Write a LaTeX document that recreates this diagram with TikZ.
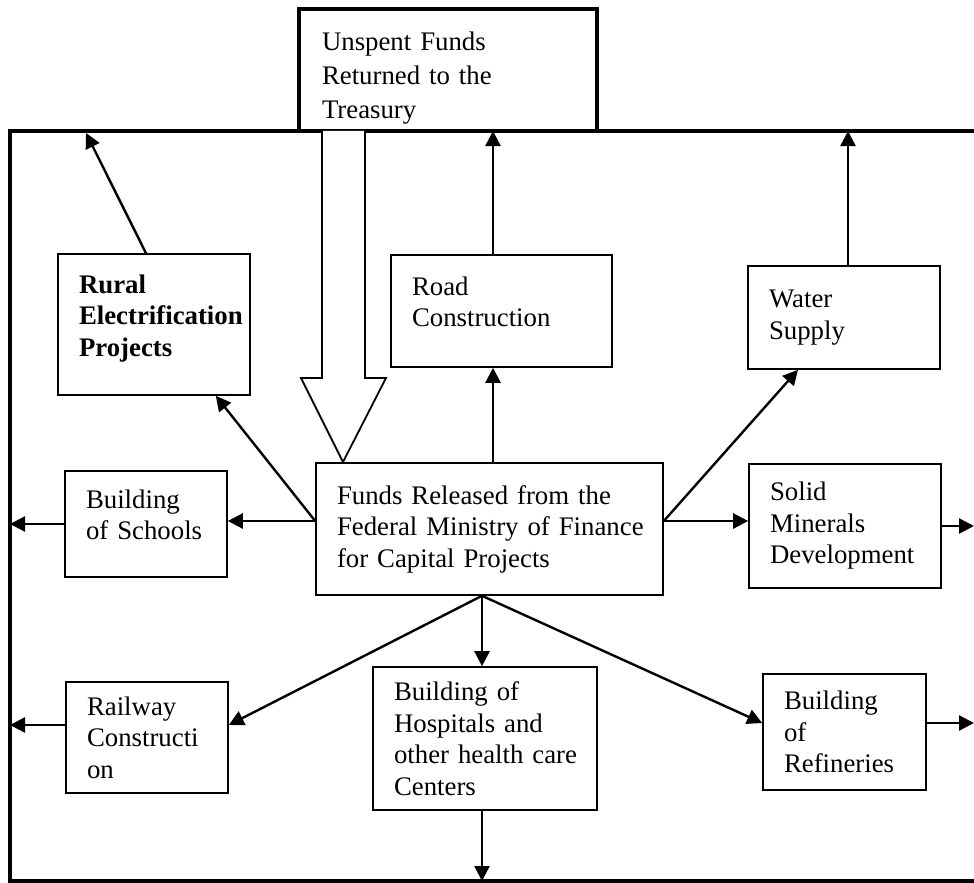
\documentclass[tikz,border=0pt]{standalone}
\usepackage{fontspec}
\setmainfont{Liberation Serif}
\usetikzlibrary{arrows.meta}

\tikzset{
  projbox/.style={draw, line width=0.8pt, align=left, inner xsep=3.5pt, inner ysep=0pt,
    font=\fontsize{13.4}{15.75}\selectfont, execute at begin node={\leftskip=7pt}},
  flow/.style={-{Triangle[length=7.5pt,width=7.5pt]}, line width=1.2pt},
}
% extra room under the text of a box
\newcommand{\padbelow}[1]{\par\vspace*{#1}\hrule height 0pt}

\begin{document}
\begin{tikzpicture}[x=0.5pt,y=-0.5pt]
		\useasboundingbox (0,0) rectangle (974,883);
		
		% Outer frame
		\draw[line width=2pt] (974,131) -- (10,131) -- (10,881) -- (974,881);
		\coordinate (ftop) at (0,131);
		\coordinate (fbot) at (0,881);
		\coordinate (fleft) at (10,0);
		\coordinate (fright) at (974,0);
		
		% Treasury box
		\node[projbox, line width=2pt, text width=142pt, minimum height=61pt, text height=17pt,
		  font=\fontsize{13.4}{17}\selectfont, execute at begin node={\leftskip=8pt}] (treasury) at (448,70) {Unspent Funds\\Returned to the\\Treasury};
		
		% Hollow arrow
		\draw[line width=0.9pt, fill=white] (322,131) -- (322,378) -- (301,378) -- (343,462) -- (386,378) -- (365,378) -- (365,131);
		
		% Upper row
		\node[projbox, text width=89pt, minimum height=70.5pt, font=\fontsize{13.4}{15.75}\selectfont\bfseries] (rural) at (154,324.5) {Rural\\Electrification\\Projects\padbelow{6pt}};
		\node[projbox, text width=103.5pt, minimum height=56pt] (road) at (501.5,311) {Road\\Construction\padbelow{9pt}};
		\node[projbox, text width=89pt, minimum height=51.5pt] (water) at (844,317.5) {Water\\Supply};
		
		% Middle row
		\node[projbox, text width=74pt, minimum height=53pt] (schools) at (146,524) {Building\\of Schools\padbelow{9pt}};
		\node[projbox, text width=166.5pt, minimum height=66pt] (central) at (489.5,529) {Funds Released from the\\Federal Ministry of Finance\\for Capital Projects};
		\node[projbox, text width=89pt, minimum height=62pt] (solid) at (845,526) {Solid\\Minerals\\Development};
		
		% Lower row
		\node[projbox, text width=74pt, minimum height=55.5pt] (railway) at (147,737.5) {Railway\\Constructi\\on};
		\node[projbox, text width=105pt, minimum height=71.5pt] (hospital) at (485,738.5) {Building of\\Hospitals and\\other health care\\Centers};
		\node[projbox, text width=74.5pt, minimum height=58pt] (refineries) at (844.5,732) {Building\\of\\Refineries};
		
		% Arrows out of the central box
		\coordinate (cL) at ([yshift=4pt]central.west);
		\coordinate (cR) at ([yshift=4pt]central.east);
		\coordinate (cT) at ([xshift=1.75pt]central.north);
		\coordinate (cB) at ([xshift=-3.75pt]central.south);
		\draw[flow] (cL) -- ([xshift=-17.5pt]rural.south east);
		\draw[flow] (cL) -- (cL -| schools.east);
		\draw[flow] (cT) -- (cT |- road.south);
		\draw[flow] (cR) -- ([xshift=-23pt]water.south);
		\draw[flow] (cR) -- (cR -| solid.west);
		\draw[flow] (cB) -- ([yshift=6.25pt]railway.east);
		\draw[flow] (cB) -- (cB |- hospital.north);
		\draw[flow] (cB) -- ([yshift=4.5pt]refineries.west);
		
		% Arrows to the frame
		\draw[flow] ([xshift=-4pt]rural.north) -- (86,133);
		\draw[flow] (cT |- road.north) -- (cT |- ftop);
		\draw[flow] ([xshift=2pt]water.north) -- ([xshift=2pt]water.north |- ftop);
		\draw[flow] (schools.west) -- (schools.west -| fleft);
		\draw[flow] (solid.east) -- (solid.east -| fright);
		\draw[flow] ([yshift=6.25pt]railway.west) -- ([yshift=6.25pt]railway.west -| fleft);
		\draw[flow] ([yshift=4.5pt]refineries.east) -- ([yshift=4.5pt]refineries.east -| fright);
		\draw[flow] (cB |- hospital.south) -- (cB |- fbot);
		
	\end{tikzpicture}
\end{document}
